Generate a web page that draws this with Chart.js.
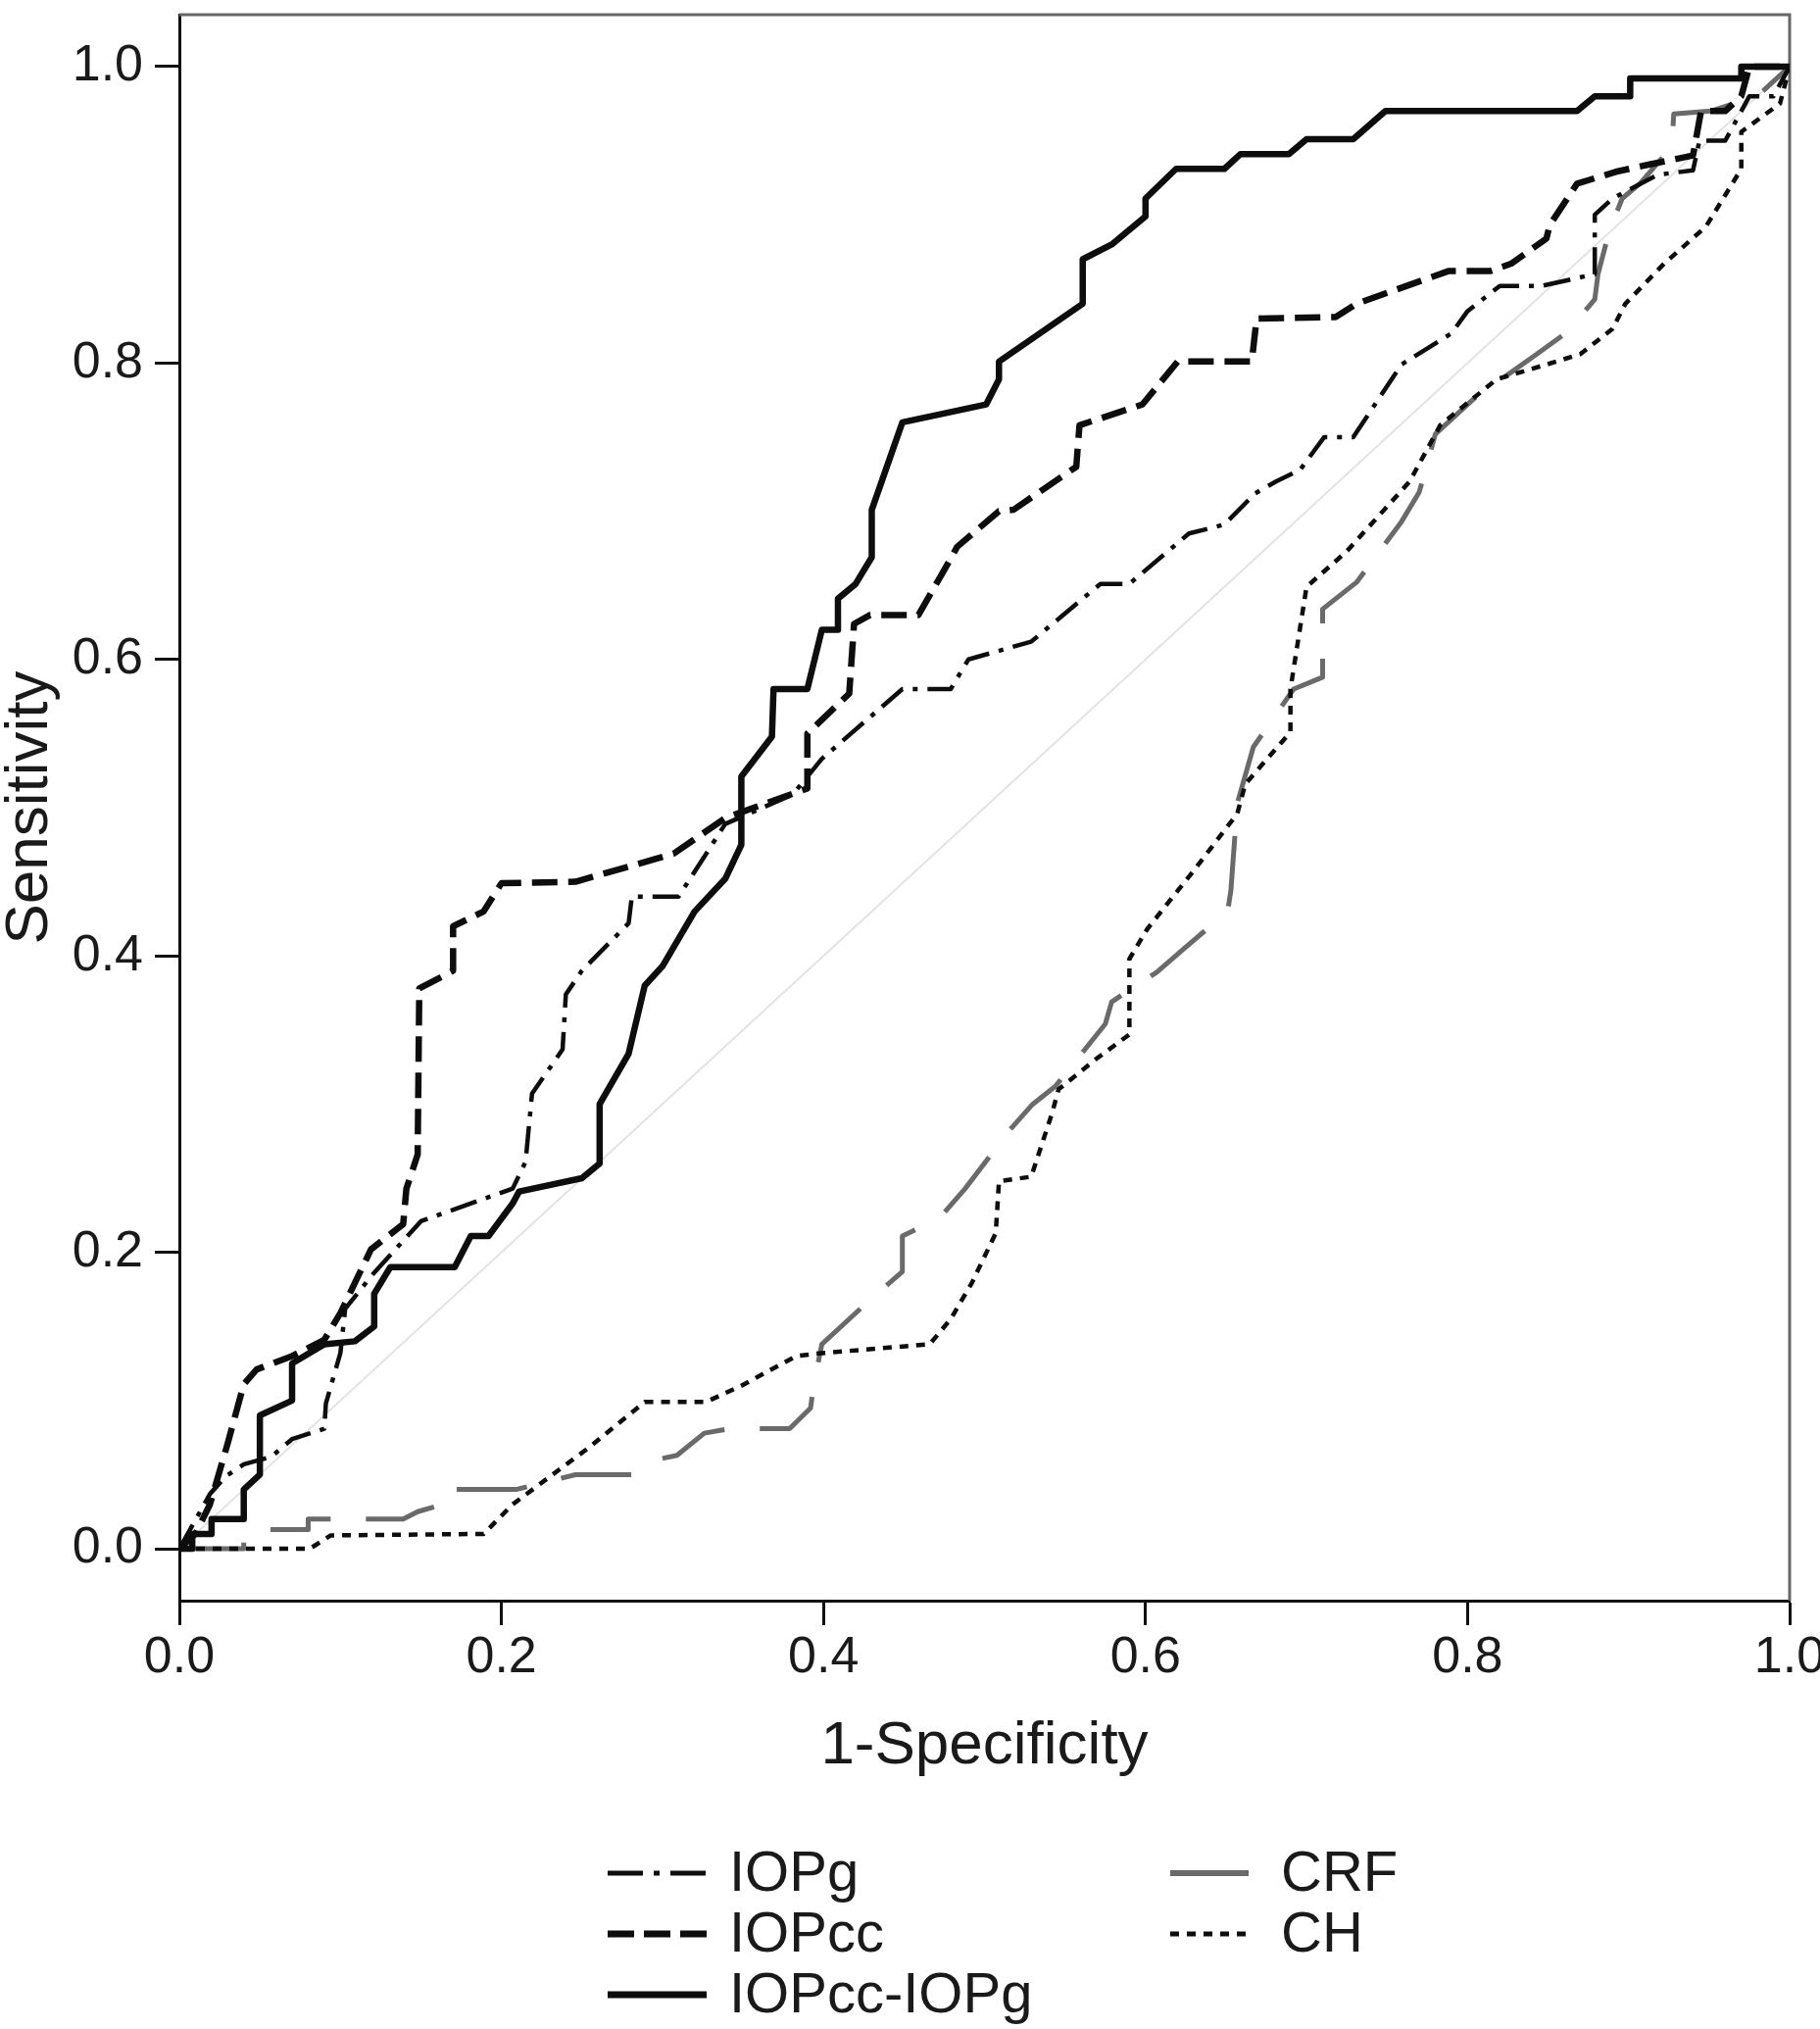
<!DOCTYPE html>
<html><head><meta charset="utf-8">
<script src="https://cdn.jsdelivr.net/npm/chart.js@4.4.1/dist/chart.umd.min.js"></script>
<style>html,body{margin:0;padding:0;background:#fff;} #wrap{width:1857px;height:2070px;position:relative;}</style>
</head><body><div id="wrap"><canvas id="c" width="1857" height="2070"></canvas></div>
<script>
// ---- data (1-Specificity, Sensitivity) ----
const xTicks = [0, 0.2, 0.4, 0.6, 0.8, 1.0];
const yTicks = [0, 0.2, 0.4, 0.6, 0.8, 1.0];
const xTitle = '1-Specificity';
const yTitle = 'Sensitivity';
const reference = [[0,0],[1,1]];

const iopg = [[0,0],[0.019,0.037],[0.029,0.049],[0.04,0.057],[0.057,0.062],[0.07,0.074],[0.09,0.081],[0.091,0.098],[0.1,0.132],[0.103,0.162],[0.12,0.185],[0.15,0.221],[0.207,0.243],[0.215,0.261],[0.219,0.307],[0.238,0.337],[0.24,0.374],[0.25,0.39],[0.279,0.422],[0.281,0.44],[0.31,0.44],[0.329,0.472],[0.339,0.489],[0.381,0.509],[0.399,0.533],[0.449,0.58],[0.479,0.58],[0.49,0.60],[0.529,0.612],[0.572,0.651],[0.59,0.651],[0.627,0.685],[0.649,0.691],[0.668,0.712],[0.681,0.72],[0.696,0.728],[0.711,0.75],[0.729,0.75],[0.759,0.799],[0.79,0.82],[0.80,0.835],[0.82,0.852],[0.846,0.852],[0.879,0.86],[0.879,0.90],[0.89,0.911],[0.918,0.927],[0.94,0.93],[0.944,0.95],[0.96,0.95],[0.975,0.98],[0.99,0.98],[1,1]];

const iopcc = [[0,0],[0.01,0.01],[0.019,0.03],[0.03,0.071],[0.04,0.111],[0.048,0.121],[0.07,0.13],[0.09,0.141],[0.1,0.159],[0.119,0.202],[0.139,0.219],[0.141,0.243],[0.148,0.266],[0.149,0.378],[0.17,0.39],[0.17,0.42],[0.189,0.43],[0.2,0.449],[0.246,0.45],[0.307,0.469],[0.339,0.493],[0.39,0.513],[0.39,0.55],[0.416,0.577],[0.419,0.624],[0.429,0.63],[0.459,0.63],[0.479,0.668],[0.483,0.676],[0.509,0.70],[0.518,0.701],[0.557,0.73],[0.559,0.758],[0.598,0.772],[0.62,0.801],[0.666,0.801],[0.669,0.83],[0.718,0.831],[0.731,0.84],[0.788,0.862],[0.814,0.862],[0.827,0.867],[0.849,0.884],[0.851,0.893],[0.868,0.921],[0.892,0.929],[0.913,0.934],[0.94,0.94],[0.945,0.97],[0.96,0.97],[0.97,0.98],[0.975,1.0],[1,1]];

const iopccMinusIopg = [[0,0],[0.008,0],[0.008,0.01],[0.02,0.01],[0.02,0.02],[0.04,0.02],[0.04,0.04],[0.05,0.05],[0.05,0.09],[0.07,0.10],[0.07,0.125],[0.09,0.138],[0.109,0.14],[0.121,0.15],[0.121,0.172],[0.131,0.19],[0.171,0.19],[0.181,0.211],[0.192,0.211],[0.207,0.233],[0.211,0.241],[0.25,0.25],[0.261,0.26],[0.261,0.30],[0.279,0.334],[0.289,0.38],[0.30,0.393],[0.32,0.43],[0.339,0.452],[0.349,0.475],[0.349,0.521],[0.368,0.548],[0.369,0.58],[0.39,0.58],[0.399,0.62],[0.409,0.62],[0.409,0.641],[0.42,0.651],[0.43,0.669],[0.43,0.701],[0.449,0.76],[0.501,0.772],[0.509,0.789],[0.509,0.801],[0.561,0.84],[0.561,0.87],[0.579,0.88],[0.60,0.899],[0.60,0.911],[0.619,0.931],[0.649,0.931],[0.659,0.941],[0.689,0.941],[0.70,0.951],[0.729,0.951],[0.749,0.97],[0.868,0.97],[0.879,0.98],[0.901,0.98],[0.901,0.992],[0.97,0.992],[0.97,1.0],[1,1]];

const crf = [[0,0],[0.04,0],[0.04,0.008],[0.045,0.013],[0.08,0.013],[0.08,0.02],[0.139,0.02],[0.148,0.025],[0.17,0.032],[0.17,0.04],[0.209,0.04],[0.246,0.05],[0.281,0.05],[0.30,0.061],[0.309,0.063],[0.326,0.078],[0.342,0.081],[0.379,0.081],[0.392,0.095],[0.394,0.111],[0.399,0.138],[0.431,0.17],[0.449,0.187],[0.449,0.211],[0.472,0.223],[0.488,0.243],[0.516,0.283],[0.53,0.30],[0.544,0.312],[0.575,0.354],[0.579,0.369],[0.607,0.389],[0.624,0.405],[0.651,0.43],[0.653,0.444],[0.657,0.503],[0.667,0.541],[0.692,0.58],[0.71,0.588],[0.71,0.634],[0.731,0.652],[0.759,0.693],[0.77,0.713],[0.78,0.752],[0.804,0.776],[0.843,0.806],[0.862,0.821],[0.879,0.843],[0.881,0.86],[0.888,0.889],[0.896,0.911],[0.907,0.921],[0.927,0.946],[0.928,0.968],[0.951,0.97],[0.98,0.98],[1,1]];

const ch = [[0,0],[0.081,0],[0.094,0.009],[0.189,0.01],[0.207,0.03],[0.254,0.068],[0.289,0.099],[0.327,0.099],[0.349,0.11],[0.383,0.13],[0.399,0.132],[0.466,0.138],[0.479,0.155],[0.492,0.179],[0.507,0.213],[0.509,0.248],[0.529,0.251],[0.542,0.294],[0.546,0.31],[0.57,0.331],[0.59,0.347],[0.59,0.398],[0.601,0.418],[0.631,0.459],[0.657,0.496],[0.662,0.516],[0.69,0.551],[0.69,0.58],[0.70,0.649],[0.725,0.673],[0.764,0.72],[0.783,0.758],[0.818,0.789],[0.849,0.799],[0.87,0.806],[0.89,0.823],[0.898,0.84],[0.922,0.867],[0.948,0.892],[0.97,0.931],[0.97,0.956],[0.994,0.975],[1,1]];

// ---- build ----
const toXY = arr => arr.map(p => ({x: p[0], y: p[1]}));
const FONT = "'Liberation Sans', Arial, Helvetica, sans-serif";
const TXT = '#1a1a1a';

const base = {showLine: true, pointRadius: 0, pointHoverRadius: 0, tension: 0, fill: false, borderJoinStyle: 'round', borderCapStyle: 'butt'};
const datasets = [
  Object.assign({label: 'IOPcc-IOPg', data: toXY(iopccMinusIopg), borderColor: '#0d0d0d', borderWidth: 6.5, borderDash: [], legendDash: [], legendWidth: 7}, base),
  Object.assign({label: 'IOPcc', data: toXY(iopcc), borderColor: '#0d0d0d', borderWidth: 6.5, borderDash: [26, 11], legendDash: [27, 10], legendWidth: 7}, base),
  Object.assign({label: 'IOPg', data: toXY(iopg), borderColor: '#0d0d0d', borderWidth: 4.5, borderDash: [28, 10, 5, 10], legendDash: [36, 11, 6, 11], legendWidth: 5}, base),
  Object.assign({label: 'CH', data: toXY(ch), borderColor: '#0d0d0d', borderWidth: 4.5, borderDash: [9, 8], legendDash: [9, 8], legendWidth: 5}, base),
  Object.assign({label: 'CRF', data: toXY(crf), borderColor: '#6a6a6a', borderWidth: 5, borderDash: [72, 36], legendDash: [], legendWidth: 6}, base),
  Object.assign({label: '', data: toXY(reference), borderColor: '#e2e2e2', borderWidth: 2, borderDash: []}, base)
];

const legendLayout = [
  {label: 'IOPg', col: 0, row: 0},
  {label: 'IOPcc', col: 0, row: 1},
  {label: 'IOPcc-IOPg', col: 0, row: 2},
  {label: 'CRF', col: 1, row: 0},
  {label: 'CH', col: 1, row: 1}
];

const framePlugin = {
  id: 'frame',
  beforeDatasetsDraw(chart) {
    const {ctx, chartArea: a} = chart;
    ctx.save();
    ctx.strokeStyle = '#666666';
    ctx.lineWidth = 3;
    ctx.beginPath();
    ctx.moveTo(a.left, a.top);
    ctx.lineTo(a.right, a.top);
    ctx.lineTo(a.right, a.bottom);
    ctx.stroke();
    ctx.restore();
  }
};

const legendPlugin = {
  id: 'customLegend',
  afterDraw(chart) {
    const ctx = chart.ctx;
    const cols = [{x0: 620, x1: 721, tx: 744}, {x0: 1194, x1: 1274, tx: 1307}];
    const rowY0 = 1911, rowH = 62;
    ctx.save();
    legendLayout.forEach(item => {
      const ds = chart.data.datasets.find(d => d.label === item.label);
      const c = cols[item.col];
      const y = rowY0 + item.row * rowH;
      ctx.beginPath();
      ctx.setLineDash(ds.legendDash || []);
      ctx.lineWidth = ds.legendWidth || ds.borderWidth;
      ctx.strokeStyle = ds.borderColor;
      ctx.lineCap = 'butt';
      ctx.moveTo(c.x0, y);
      ctx.lineTo(c.x1, y);
      ctx.stroke();
      ctx.setLineDash([]);
      ctx.fillStyle = TXT;
      ctx.font = '58px ' + FONT;
      ctx.textBaseline = 'middle';
      ctx.textAlign = 'left';
      ctx.fillText(item.label, c.tx, y + 2);
    });
    ctx.restore();
  }
};

const tickFont = {family: FONT, size: 52, lineHeight: 1};
const titleFont = {family: FONT, size: 62, lineHeight: 1};

new Chart(document.getElementById('c'), {
  type: 'scatter',
  data: {datasets},
  options: {
    responsive: false,
    animation: false,
    events: [],
    layout: {padding: {top: 15, right: 31, bottom: 257, left: 0}},
    plugins: {legend: {display: false}, tooltip: {enabled: false}},
    scales: {
      x: {
        type: 'linear', min: 0, max: 1,
        afterBuildTicks: s => { s.ticks = xTicks.map(v => ({value: v})); },
        afterFit: s => { s.height = 180; s.paddingLeft = 0; s.paddingRight = 0; },
        ticks: {font: tickFont, color: TXT, padding: 8, maxRotation: 0, autoSkip: false, callback: v => Number(v).toFixed(1)},
        grid: {display: true, drawOnChartArea: false, drawTicks: true, tickLength: 25, tickWidth: 3, tickColor: '#111'},
        border: {display: true, color: '#111', width: 3},
        title: {display: true, text: xTitle, font: titleFont, color: TXT, padding: {top: 0, bottom: 0}}
      },
      y: {
        type: 'linear', min: -0.035, max: 1.035,
        afterBuildTicks: s => { s.ticks = yTicks.map(v => ({value: v})); },
        afterFit: s => { s.width = 183; s.paddingTop = 0; s.paddingBottom = 0; },
        ticks: {font: tickFont, color: TXT, padding: 12, autoSkip: false, callback: v => Number(v).toFixed(1)},
        grid: {display: true, drawOnChartArea: false, drawTicks: true, tickLength: 25, tickWidth: 3, tickColor: '#111'},
        border: {display: true, color: '#111', width: 3},
        title: {display: true, text: yTitle, font: titleFont, color: TXT, padding: {top: 0, bottom: 0}}
      }
    }
  },
  plugins: [framePlugin, legendPlugin]
});
</script>
</body></html>
